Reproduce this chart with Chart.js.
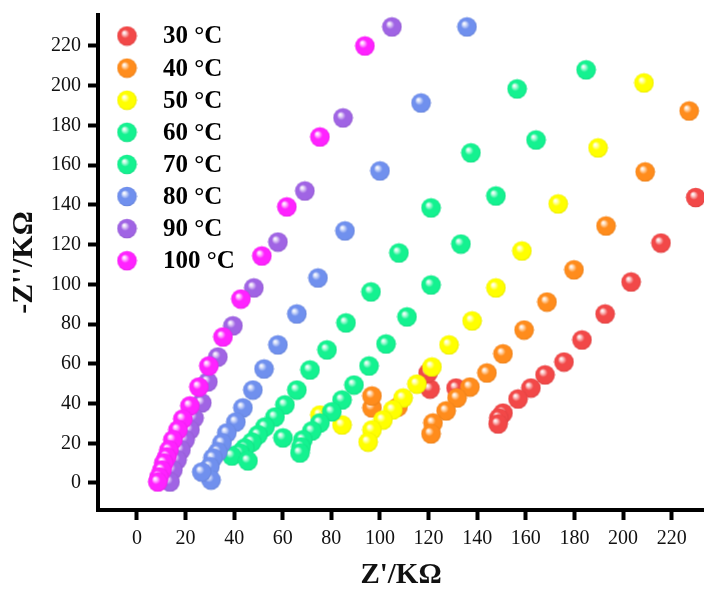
<!DOCTYPE html>
<html>
  <head>
    <title>Nyquist</title>
    <script src="https://cdn.jsdelivr.net/npm/chart.js"></script>
    <style>
      html,
      body {
        margin: 0;
        padding: 0;
        overflow: hidden;
        background: #ffffff;
      }
      #myChart {
        display: block;
      }
    </style>
  </head>
  <body>
    <canvas id="myChart" width="704" height="590"></canvas>
    <script>
      // Z' (x) and -Z'' (y) in kOhm, one pair of arrays per temperature
      const seriesNames = ["30 °C", "40 °C", "50 °C", "60 °C", "70 °C", "80 °C", "90 °C", "100 °C"];

      const re30 = [229.9, 215.6, 203.3, 192.6, 183.1, 175.7, 167.9, 162.1, 156.8, 150.6, 148.9, 148.6, 131.3, 120.6, 119.8];
      const im30 = [143.7, 120.8, 101.2, 85.1, 72.0, 60.9, 54.4, 47.8, 42.3, 35.2, 32.7, 29.7, 47.8, 47.3, 55.4];

      const re40 = [227.2, 209.1, 193.0, 179.8, 168.7, 159.3, 150.6, 144.0, 137.0, 131.7, 127.2, 121.8, 121.0, 107.4, 96.7, 96.7];
      const im40 = [187.3, 156.6, 129.4, 107.3, 91.1, 77.0, 65.0, 55.4, 48.3, 42.8, 36.3, 30.2, 24.7, 38.3, 37.8, 43.8];

      const re50 = [208.6, 189.7, 173.3, 158.4, 147.7, 137.9, 128.4, 121.4, 115.2, 109.5, 105.3, 101.2, 96.7, 95.1, 84.4, 75.3];
      const im50 = [201.4, 168.7, 140.5, 116.8, 98.2, 81.6, 69.5, 58.4, 49.8, 42.8, 36.8, 31.7, 26.7, 20.6, 29.2, 34.2];

      const re60 = [184.8, 164.2, 147.7, 133.3, 121.0, 111.1, 102.5, 95.5, 89.3, 84.4, 80.2, 75.3, 72.0, 68.3, 67.5, 67.1, 60.1];
      const im60 = [208.0, 172.7, 144.5, 120.3, 99.7, 83.6, 70.0, 58.9, 49.3, 41.8, 35.8, 30.2, 26.2, 21.7, 18.1, 15.1, 22.7];

      const re70 = [156.4, 137.4, 121.0, 107.8, 96.3, 86.0, 78.2, 71.2, 65.8, 60.9, 56.8, 52.7, 49.8, 47.3, 44.4, 42.4, 39.1, 45.7];
      const im70 = [198.4, 166.2, 138.5, 115.8, 96.2, 80.6, 67.0, 56.9, 46.8, 39.3, 33.2, 28.2, 24.2, 20.6, 17.6, 15.1, 13.6, 11.1];

      const re80 = [135.8, 116.9, 100.0, 85.6, 74.5, 65.8, 58.0, 52.3, 47.7, 43.6, 40.7, 37.0, 35.0, 33.3, 31.3, 30.0, 30.5, 26.7];
      const im80 = [229.6, 191.3, 157.1, 126.9, 103.2, 85.1, 69.5, 57.4, 46.8, 37.8, 30.7, 25.2, 20.1, 15.6, 12.6, 8.1, 1.5, 5.5];

      const re90 = [104.9, 84.8, 69.1, 58.0, 48.1, 39.5, 33.3, 29.2, 26.7, 23.5, 21.8, 19.8, 18.1, 16.5, 14.8, 13.6];
      const im90 = [229.6, 183.8, 147.0, 121.3, 98.2, 79.1, 63.4, 50.9, 40.3, 32.7, 26.7, 21.7, 16.6, 11.6, 6.5, 0.5];

      const re100 = [93.8, 75.3, 61.7, 51.4, 42.8, 35.4, 29.6, 25.5, 21.8, 18.9, 16.9, 14.8, 13.2, 12.3, 11.1, 10.3, 9.1, 8.6];
      const im100 = [220.0, 174.2, 139.0, 114.3, 92.6, 73.5, 58.9, 48.3, 38.8, 32.2, 26.7, 21.7, 16.6, 13.1, 10.1, 6.5, 3.0, 0.5];

      const xTicks = [0, 20, 40, 60, 80, 100, 120, 140, 160, 180, 200, 220];
      const yTicks = [0, 20, 40, 60, 80, 100, 120, 140, 160, 180, 200, 220];

      const reValues = [re30, re40, re50, re60, re70, re80, re90, re100];
      const imValues = [im30, im40, im50, im60, im70, im80, im90, im100];

      const colors = ["#f24848", "#ff8c1c", "#ffff00", "#14f290", "#14f290", "#7090ee", "#a064e4", "#ff22ff"];

      const serif = "'Liberation Serif', 'Times New Roman', serif";

      function shade(hex, t) {
        const n = parseInt(hex.slice(1), 16);
        let r = (n >> 16) & 255, g = (n >> 8) & 255, b = n & 255;
        const target = t > 0 ? 255 : 0;
        const k = Math.abs(t);
        r = Math.round(r + (target - r) * k);
        g = Math.round(g + (target - g) * k);
        b = Math.round(b + (target - b) * k);
        return "rgb(" + r + "," + g + "," + b + ")";
      }

      // small glossy ball used as point style
      function sphere(color) {
        const c = document.createElement("canvas");
        c.width = 21;
        c.height = 21;
        const g = c.getContext("2d");
        const grad = g.createRadialGradient(7.5, 7, 0.3, 10.5, 10.5, 10);
        grad.addColorStop(0, "#ffffff");
        grad.addColorStop(0.16, shade(color, 0.7));
        grad.addColorStop(0.42, color);
        grad.addColorStop(0.85, color);
        grad.addColorStop(1, shade(color, -0.1));
        g.fillStyle = grad;
        g.beginPath();
        g.arc(10.5, 10.5, 9.8, 0, Math.PI * 2);
        g.fill();
        return c;
      }

      const balls = colors.map(sphere);

      const legendPlugin = {
        id: "ballLegend",
        afterDraw(chart) {
          const ctx = chart.ctx;
          ctx.save();
          ctx.font = "bold 25px " + serif;
          ctx.fillStyle = "#000000";
          ctx.textBaseline = "middle";
          ctx.textAlign = "left";
          seriesNames.forEach((name, i) => {
            const y = 36 + i * 32.1;
            ctx.drawImage(balls[i], 127 - 10.5, y - 10.5);
            ctx.fillText(name, 163, y + 1);
          });
          ctx.restore();
        },
      };

      const datasets = seriesNames.map((name, i) => ({
        label: name,
        data: reValues[i].map((x, j) => ({ x: x, y: imValues[i][j] })),
        pointStyle: balls[i],
        pointRadius: 10,
        order: seriesNames.length - i,
        showLine: false,
        clip: false,
      }));

      const ctx = document.getElementById("myChart").getContext("2d");
      new Chart(ctx, {
        type: "scatter",
        data: { datasets: datasets },
        plugins: [legendPlugin],
        options: {
          responsive: false,
          devicePixelRatio: 1,
          animation: false,
          layout: {
            autoPadding: false, // points may touch the right edge, as in the figure
            padding: { top: 15, left: 0, right: 0, bottom: 0 },
          },
          plugins: {
            legend: { display: false },
            tooltip: { enabled: false },
          },
          scales: {
            x: {
              type: "linear",
              min: -16,
              max: 233.3,
              afterBuildTicks: (scale) => {
                scale.ticks = xTicks.map((v) => ({ value: v }));
              },
              afterFit: (scale) => {
                scale.height = 80;
                scale.paddingLeft = 0;
                scale.paddingRight = 0;
              },
              border: { display: true, color: "#000000", width: 4 },
              grid: {
                drawOnChartArea: false,
                drawTicks: true,
                tickLength: 10,
                tickWidth: 4,
                tickColor: "#000000",
              },
              ticks: {
                padding: 7,
                maxRotation: 0,
                color: "#111111",
                font: { family: serif, size: 20 },
              },
              title: {
                display: true,
                text: "Z'/KΩ",
                color: "#111111",
                font: { family: serif, size: 29, weight: "bold", lineHeight: 1 },
                padding: { top: 0, bottom: 0 },
              },
            },
            y: {
              type: "linear",
              min: -13.6,
              max: 235.6,
              afterBuildTicks: (scale) => {
                scale.ticks = yTicks.map((v) => ({ value: v }));
              },
              afterFit: (scale) => {
                scale.width = 98;
                scale.paddingTop = 0;
                scale.paddingBottom = 0;
              },
              border: { display: true, color: "#000000", width: 4 },
              grid: {
                drawOnChartArea: false,
                drawTicks: true,
                tickLength: 10,
                tickWidth: 4,
                tickColor: "#000000",
              },
              ticks: {
                padding: 7,
                color: "#111111",
                font: { family: serif, size: 20 },
              },
              title: {
                display: true,
                text: "-Z''/KΩ",
                color: "#111111",
                font: { family: serif, size: 30, weight: "bold", lineHeight: 1 },
                padding: { top: 9, bottom: 0 },
              },
            },
          },
        },
      });
    </script>
  </body>
</html>
